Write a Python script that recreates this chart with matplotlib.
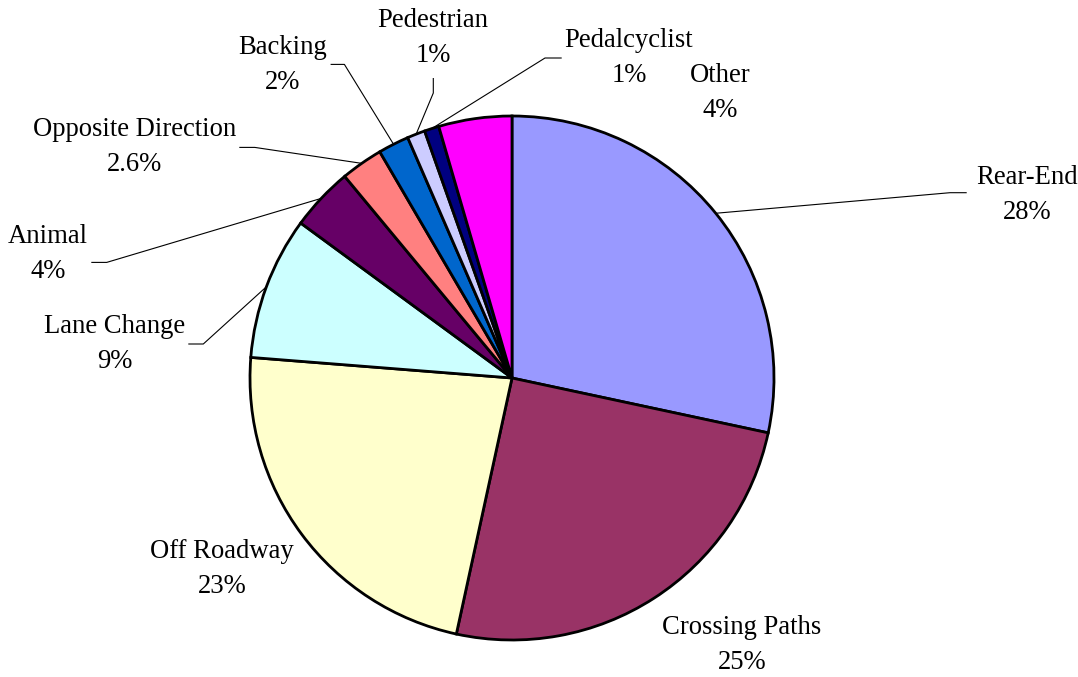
import numpy as np
import matplotlib
matplotlib.use("Agg")
import matplotlib.pyplot as plt

# ---- data ----
categories = ["Rear-End", "Crossing Paths", "Off Roadway", "Lane Change", "Animal",
              "Opposite Direction", "Backing", "Pedestrian", "Pedalcyclist", "Other"]
values = [28.3, 25.0, 22.8, 8.8, 3.9, 2.6, 1.9, 1.1, 0.9, 4.5]
pct_labels = ["28%", "25%", "23%", "9%", "4%", "2.6%", "2%", "1%", "1%", "4%"]
colors = ["#9999FF", "#993366", "#FFFFCC", "#CCFFFF", "#660066",
          "#FF8080", "#0066CC", "#CCCCFF", "#000080", "#FF00FF"]

# ---- layout (pixel coordinates, y measured from top) ----
W, H = 1078, 677
center_px = (512, 378)
radius_px = 262
label_pos = {
    "Rear-End": (1027, 195),
    "Crossing Paths": (742, 645),
    "Off Roadway": (222, 569),
    "Lane Change": (115, 344),
    "Animal": (48, 254),
    "Opposite Direction": (135, 147),
    "Backing": (283, 65),
    "Pedestrian": (433, 38),
    "Pedalcyclist": (629, 58),
    "Other": (720, 93),
}
# leader lines: (label-side start, elbow)
leaders = {
    "Rear-End": ((966.7, 192.7), (950, 192.7)),
    "Lane Change": ((188.3, 344), (203.3, 344)),
    "Animal": ((91.3, 262.4), (106.7, 262.4)),
    "Opposite Direction": ((239.3, 147.4), (254.8, 147.4)),
    "Backing": ((330.6, 64.4), (344.4, 64.4)),
    "Pedestrian": ((433.3, 78), (433.3, 93)),
    "Pedalcyclist": ((561.7, 58), (545, 58)),
}

def fy(y):
    return H - y

fig = plt.figure(figsize=(W / 100, H / 100), dpi=100)
ax = fig.add_axes([0, 0, 1, 1])

wedges, _ = ax.pie(values, colors=colors, startangle=90, counterclock=False,
                   center=(center_px[0], fy(center_px[1])), radius=radius_px,
                   wedgeprops=dict(edgecolor="black", linewidth=2.0))
ax.set_xlim(0, W)
ax.set_ylim(0, H)
ax.set_aspect("equal")
ax.axis("off")

font = dict(family="Liberation Serif", size=19.2)
for name, pct in zip(categories, pct_labels):
    x, y = label_pos[name]
    ax.text(x, fy(y), f"{name}\n{pct}", ha="center", va="center",
            linespacing=1.55, **font)

for w, name in zip(wedges, categories):
    if name not in leaders:
        continue
    mid = np.deg2rad((w.theta1 + w.theta2) / 2)
    cx, cy = w.center
    ex = cx + w.r * np.cos(mid)
    ey = cy + w.r * np.sin(mid)
    (sx, sy), (bx, by) = leaders[name]
    ax.plot([sx, bx, ex], [fy(sy), fy(by), ey], color="black", lw=0.8,
            solid_capstyle="butt", zorder=0.5)

fig.savefig("out.png", dpi=100)
